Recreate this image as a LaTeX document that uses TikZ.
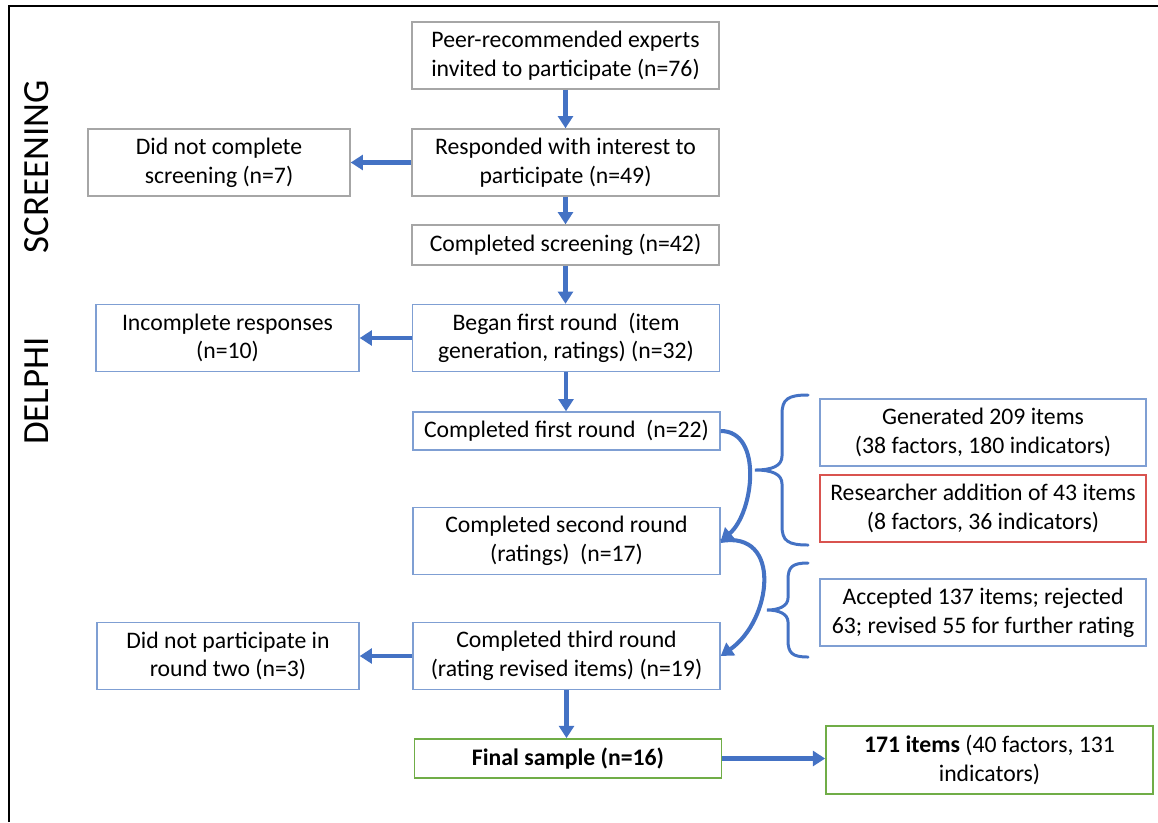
\documentclass[tikz,border=0pt]{standalone}
\usepackage{fontspec}
\setmainfont{Carlito}
\usetikzlibrary{positioning}
\usetikzlibrary{arrows.meta}

\definecolor{flowblue}{HTML}{4472C4}
\definecolor{edgeblue}{HTML}{7F9FD3}
\definecolor{edgegrey}{HTML}{A6A6A6}
\definecolor{edgered}{HTML}{D9534F}
\definecolor{edgegreen}{HTML}{70AD47}

\begin{document}
\begin{tikzpicture}[
	  x=0.02cm, y=-0.02cm,
	  every node/.style = {align=center, font=\fontsize{13.5}{16.3}\selectfont},
	  box/.style = {shape=rectangle, draw, line width=0.8pt, inner sep=2pt, minimum width=6.14cm, minimum height=1.34cm},
	  greybox/.style = {box, draw=edgegrey},
	  bluebox/.style = {box, draw=edgeblue},
	  redbox/.style = {box, draw=edgered},
	  greenbox/.style = {box, draw=edgegreen, line width=1pt},
	  flow/.style = {draw=flowblue, line width=2.3pt, -{Triangle[width=8.5pt,length=7pt]}},
	  curly/.style = {draw=flowblue, line width=1.7pt, line cap=round},
	  sidelabel/.style = {rotate=90, font=\fontsize{21}{25}\selectfont}
	]
	  \useasboundingbox (0,0) rectangle (1158,822);
	  \draw[line width=1.2pt] (9,822) -- (9,6) -- (1158,6);

	  \node[sidelabel] (screening) at (37,167) {SCREENING};
	  \node[sidelabel] (delphi) at (37,391) {DELPHI};

	  % main column
	  \node[greybox] (peer) at (565.5,55.5) {Peer-recommended experts\\invited to participate (n=76)};
	  \node[greybox] (resp) at (565.5,162.5) {Responded with interest to\\participate (n=49)};
	  \node[greybox, minimum height=0.8cm] (scrdone) at (565.5,245) {Completed screening (n=42)};
	  \node[bluebox] (began) at (566,338) {Began first round~ (item\\generation, ratings) (n=32)};
	  \node[bluebox, minimum height=0.76cm] (first) at (566.5,431) {Completed first round~ (n=22)};
	  \node[bluebox] (second) at (566.5,541) {Completed second round\\(ratings)~ (n=17)};
	  \node[bluebox] (third) at (566.5,656) {Completed third round\\(rating revised items) (n=19)};
	  \node[greenbox, minimum height=0.78cm] (final) at (568,758.5) {\textbf{Final sample (n=16)}};

	  % drop-outs
	  \node[greybox, minimum width=5.24cm] (dropscr) at (219,162.5) {Did not complete\\screening (n=7)};
	  \node[bluebox, minimum width=5.26cm] (incomp) at (227.5,338) {Incomplete responses\\(n=10)};
	  \node[bluebox, minimum width=5.24cm] (noround) at (228,656) {Did not participate in\\round two (n=3)};

	  % items
	  \node[bluebox, minimum width=6.52cm] (gen) at (983,432.5) {Generated 209 items\\(38 factors, 180 indicators)};
	  \node[redbox, minimum width=6.52cm] (resadd) at (983,508.5) {Researcher addition of 43 items\\(8 factors, 36 indicators)};
	  \node[bluebox, minimum width=6.52cm] (accept) at (983,612.5) {Accepted 137 items; rejected\\63; revised 55 for further rating};
	  \node[greenbox, minimum width=6.54cm, minimum height=1.36cm] (items) at (989.5,760) {\textbf{171 items} (40 factors, 131\\indicators)};

	  \draw[flow] (peer) -- (resp);
	  \draw[flow] (resp) -- (scrdone);
	  \draw[flow] (scrdone.south) -- (scrdone.south |- began.north);
	  \draw[flow] (began.south) -- (began.south |- first.north);
	  \draw[flow] (third.south) -- (third.south |- final.north);
	  \draw[flow] (resp) -- (dropscr);
	  \draw[flow] (began) -- (incomp);
	  \draw[flow] (third) -- (noround);
	  \draw[flow] (final) -- (items.west |- final);
	  \draw[flow] (first.east) to[out=0, in=40] (second.east);
	  \draw[flow] (second.east) to[out=10, in=35, looseness=1.4] (third.east);

	  % braces
	  \draw[curly] (808,395) .. controls (788,395) and (782,399) .. (782,414) -- (782,456)
	    .. controls (782,466) and (772,470) .. (755,470) .. controls (772,470) and (782,474) .. (782,484)
	    -- (782,526) .. controls (782,541) and (788,545) .. (808,545);
	  \draw[curly] (808,563) .. controls (792,563) and (788,567) .. (788,580) -- (788,598)
	    .. controls (788,606) and (779,610) .. (767,610) .. controls (779,610) and (788,614) .. (788,622)
	    -- (788,640) .. controls (788,653) and (792,657) .. (808,657);
	\end{tikzpicture}
\end{document}
